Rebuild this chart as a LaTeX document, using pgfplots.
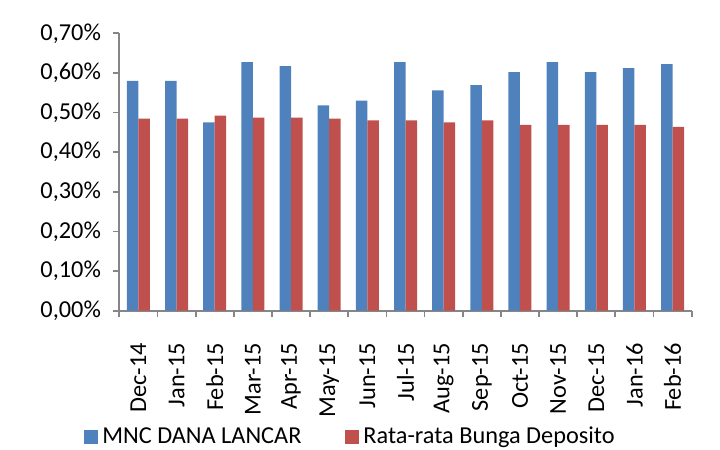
\documentclass[border=0pt]{standalone}
\usepackage{pgfplots}
\pgfplotsset{compat=1.18}
\usepackage{fontspec}
\setmainfont{Carlito}
\definecolor{xblue}{HTML}{4F81BD}
\definecolor{xred}{HTML}{C0504D}
\definecolor{axgray}{HTML}{868686}
\begin{document}
\begin{tikzpicture}[font=\fontsize{12.2}{14}\selectfont]
\path[use as bounding box] (0,0) rectangle (360bp,225bp);
\begin{axis}[
  at={(59.65bp,69.65bp)}, anchor=south west,
  scale only axis, width=286.2bp, height=138.7bp,
  ybar=0pt, bar width=5.75bp,
  xmin=-0.5, xmax=14.5, ymin=0, ymax=0.7,
  axis lines=left,
  axis line style={draw=axgray, line width=0.9pt, -},
  tick style={draw=axgray, line width=0.9pt},
  tick align=outside,
  major tick length=3bp,
  xtick={-0.5,0.5,...,14.5},
  x tick label as interval,
  xticklabels={Dec-14,Jan-15,Feb-15,Mar-15,Apr-15,May-15,Jun-15,Jul-15,Aug-15,Sep-15,Oct-15,Nov-15,Dec-15,Jan-16,Feb-16},
  xticklabel style={rotate=90, anchor=east, inner sep=0pt},
  xticklabel shift=13bp,
  ytick={0,0.1,...,0.7},
  yticklabels={{0,00\%},{0,10\%},{0,20\%},{0,30\%},{0,40\%},{0,50\%},{0,60\%},{0,70\%}},
  yticklabel style={anchor=east, inner sep=0pt},
  yticklabel shift=6bp,
  legend style={at={(0.4057,-0.455)}, anchor=center, draw=none, fill=none,
    legend columns=2, /tikz/every even column/.append style={column sep=20bp},
    font=\fontsize{12.2}{14}\selectfont, inner sep=0pt},
  legend image code/.code={\fill[#1] (0bp,-3.5bp) rectangle (7bp,3.5bp);},
  legend cell align=left,
]
\addplot[fill=xblue, draw=none] coordinates {
(0,0.580) (1,0.580) (2,0.475) (3,0.627) (4,0.617) (5,0.518) (6,0.530) (7,0.627)
(8,0.556) (9,0.569) (10,0.602) (11,0.627) (12,0.602) (13,0.612) (14,0.622)};
\addplot[fill=xred, draw=none] coordinates {
(0,0.485) (1,0.485) (2,0.492) (3,0.487) (4,0.487) (5,0.485) (6,0.480) (7,0.480)
(8,0.475) (9,0.480) (10,0.469) (11,0.469) (12,0.469) (13,0.469) (14,0.464)};
\legend{MNC DANA LANCAR, Rata-rata Bunga Deposito}
\end{axis}
\end{tikzpicture}
\end{document}
